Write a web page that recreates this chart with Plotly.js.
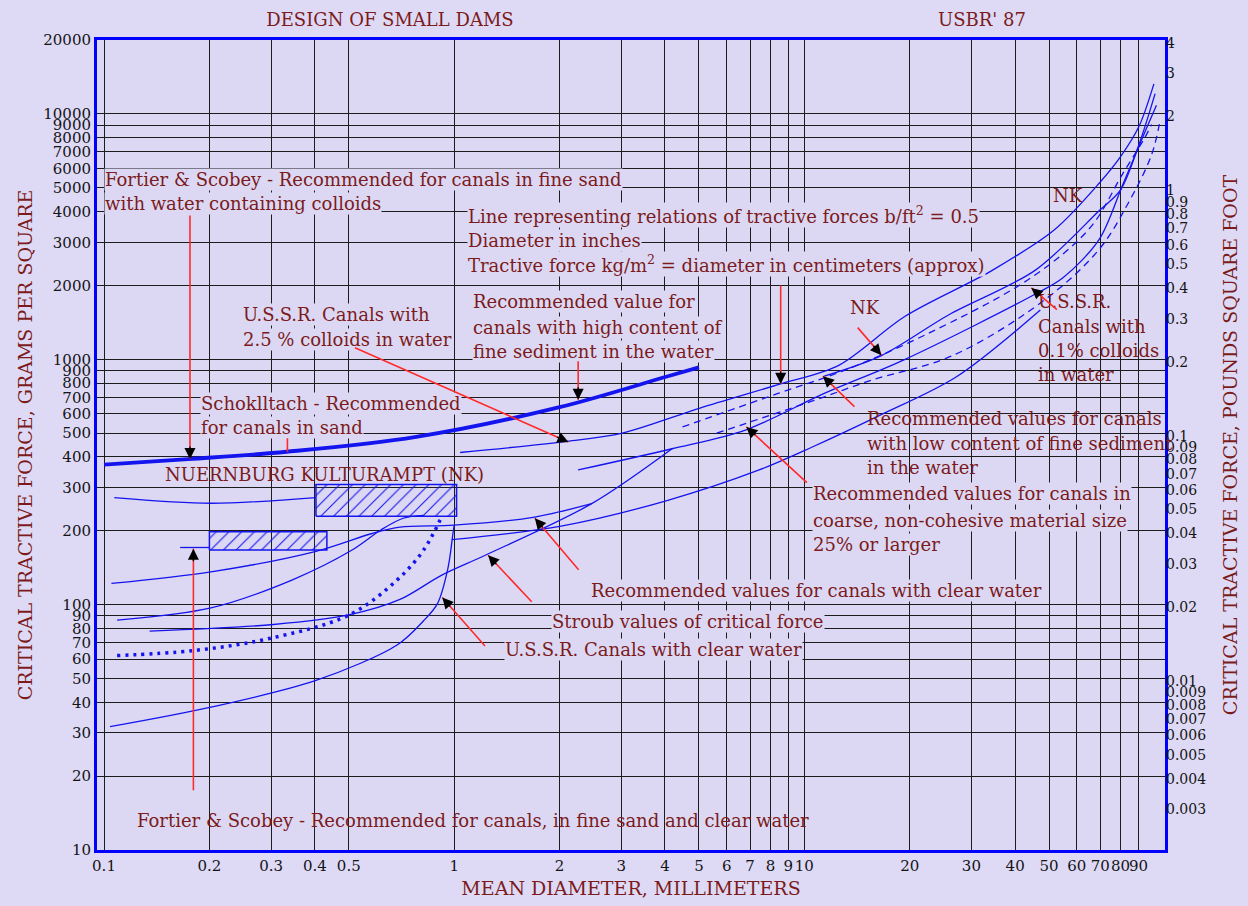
<!DOCTYPE html>
<html><head><meta charset="utf-8">
<script src="https://cdn.plot.ly/plotly-3.0.1.min.js"></script>
<style>html,body{margin:0;padding:0;background:#dedaf6;} #chart{width:1248px;height:906px;}</style>
</head><body><div id="chart"></div>
<script>
// ---- data: mean diameter (mm) vs critical tractive force (g/m2) ----
const schoklitschX = [0.1, 0.174, 0.332, 0.779, 2.0, 4.03, 5.0];
const schoklitschY = [372, 392, 420, 483, 638, 849, 927];
const ussr25X = [1.04, 2.10, 3.02, 5.04, 8.56, 12.5, 19.4, 34.5, 51.8, 69.6, 80, 90.4, 99.6];
const ussr25Y = [417, 463, 500, 633, 794, 943, 1498, 2310, 3372, 5230, 6700, 8930, 13260];
const coarseX = [2.26, 4.19, 6.79, 11.4, 19.4, 45.7, 54.9, 69.6, 81.1, 93.5, 101.3];
const coarseY = [354, 432, 515, 726, 1000, 1845, 2155, 3090, 5140, 8321, 10850];
const nkLowX = [11.4, 16.6, 25.8, 45.7, 69.6, 80, 90.4, 100.4];
const nkLowY = [854, 1035, 1516, 2310, 4040, 4904, 7550, 12110];
const lowSedAX = [4.49, 8.41, 12.8, 22.2, 44.5, 65.6, 81.1, 93.5, 98.1];
const lowSedAY = [530, 726, 893, 1260, 2155, 3450, 5704, 7934, 9067];
const lowSedBX = [5.62, 10.5, 15.6, 26.5, 48.4, 69.6, 85.0, 98.1, 103.9];
const lowSedBY = [500, 675, 823, 1035, 1741, 2815, 4450, 6820, 9520];
const ussr01X = [0.984, 2.02, 4.03, 7.43, 10.5, 16.3, 27.2, 47.2];
const ussr01Y = [184, 209, 265, 354, 438, 588, 849, 1587];
const stroubX = [0.135, 0.305, 0.503, 0.7, 0.922, 1.227, 2.47, 4.19];
const stroubY = [78, 83, 91, 105, 132, 159, 258, 432];
const clearRecX = [0.105, 0.202, 0.403, 0.583, 0.7, 1.0, 1.682, 2.47];
const clearRecY = [122, 136, 165, 195, 207, 211, 227, 258];
const nkMidX = [0.109, 0.202, 0.344, 0.511, 0.619, 0.715, 0.818];
const nkMidY = [86.5, 97, 126, 167, 202, 225, 231];
const fortierClearX = [0.109, 0.18, 0.293, 0.503, 0.687, 0.818, 0.922];
const fortierClearY = [62, 65, 72.5, 91, 126, 167, 229];
const ussrClearX = [0.104, 0.202, 0.403, 0.687, 0.818, 0.896, 0.96, 0.992, 1.0];
const ussrClearY = [31.8, 38.2, 49.1, 68.5, 86, 101, 141, 195, 211];
const nkUpperX = [0.107, 0.202, 0.403];
const nkUpperY = [273, 259, 273];
const nkBoxRangeX = [0.403, 1.016];
const nkBoxRangeY = [229, 309];
const fsBoxRangeX = [0.2, 0.433];
const fsBoxRangeY = [167, 198];
const fsTickX = [0.165, 0.2];
const fsTickY = [171, 171];
const GM2_PER_LBFT2 = 4882;

// ---- tick labels ----
const xTickVals = [0.1,0.2,0.3,0.4,0.5,1,2,3,4,5,6,7,8,9,10,20,30,40,50,60,70,80,90];
const xTickText = ['0.1','0.2','0.3','0.4','0.5','1','2','3','4','5','6','7','8','9','10','20','30','40','50','60','70','80','90'];
const xUnlabelledGrid = [0.6,0.7,0.8,0.9];
const yTickVals = [10,20,30,40,50,60,70,80,90,100,200,300,400,500,600,700,800,900,1000,2000,3000,4000,5000,6000,7000,8000,9000,10000,20000];
const yTickText = yTickVals.map(String);
const y2TickVals = [0.003,0.004,0.005,0.006,0.007,0.008,0.009,0.01,0.02,0.03,0.04,0.05,0.06,0.07,0.08,0.09,0.1,0.2,0.3,0.4,0.5,0.6,0.7,0.8,0.9,1,2,3,4];
const y2TickText = y2TickVals.map(String);

const BLUE = '#1414ee';
const RED_TXT = '#7b1b1b';
const BG = '#dcd8f4';
const FONT = 'DejaVu Serif, serif';
const gridC = '#1c1c1c';

function line(x, y, opts) {
  return Object.assign({type:'scatter', mode:'lines', x:x, y:y, hoverinfo:'skip', showlegend:false,
    line:{color:BLUE, width:1.3, shape:'spline', smoothing:0.9}}, opts || {});
}
function box(rx, ry) {
  return {type:'scatter', mode:'lines', x:[rx[0],rx[1],rx[1],rx[0],rx[0]], y:[ry[0],ry[0],ry[1],ry[1],ry[0]],
    fill:'toself', fillcolor:'rgba(0,0,0,0)', hoverinfo:'skip', showlegend:false,
    line:{color:BLUE, width:1.5},
    fillpattern:{shape:'/', fgcolor:BLUE, bgcolor:'rgba(0,0,0,0)', size:9, solidity:0.12}};
}

const traces = [
  line(schoklitschX, schoklitschY, {line:{color:BLUE, width:3.8, shape:'spline'}}),
  line(ussr25X, ussr25Y),
  line(coarseX, coarseY),
  line(nkLowX, nkLowY),
  line(lowSedAX, lowSedAY, {line:{color:BLUE, width:1.3, dash:'7px,5px', shape:'spline'}}),
  line(lowSedBX, lowSedBY, {line:{color:BLUE, width:1.3, dash:'7px,5px', shape:'spline'}}),
  line(ussr01X, ussr01Y),
  line(stroubX, stroubY),
  line(clearRecX, clearRecY),
  line(nkMidX, nkMidY),
  line(fortierClearX, fortierClearY, {line:{color:BLUE, width:3.5, dash:'3px,5px', shape:'spline'}}),
  line(ussrClearX, ussrClearY),
  line(nkUpperX, nkUpperY),
  line(fsTickX, fsTickY, {line:{color:BLUE, width:1.3}}),
  box(nkBoxRangeX, nkBoxRangeY),
  box(fsBoxRangeX, fsBoxRangeY),
  // invisible copy on the lb/ft2 axis so the right axis is drawn
  {type:'scatter', mode:'lines', x:schoklitschX, y:schoklitschY.map(v => v / GM2_PER_LBFT2), yaxis:'y2',
   opacity:0, hoverinfo:'skip', showlegend:false, line:{width:0.1}}
];

// unlabelled vertical grid lines (0.6 - 0.9 mm)
const shapes = xUnlabelledGrid.map(v => ({type:'line', xref:'x', yref:'paper', x0:Math.log10(v), x1:Math.log10(v),
  y0:0, y1:1, layer:'below', line:{color:gridC, width:1}}));

// ---- annotations ----
const L = 97, T = 40, W = 1068, H = 810;
const px = v => (v - L) / W;
const py = v => (T + H - v) / H;
const ann = [];
function txt(x, y, text, bg, anchor, size) {
  ann.push({xref:'paper', yref:'paper', x:px(x), y:py(y), text:text, showarrow:false,
    xanchor:anchor || 'left', yanchor:'middle', font:{family:FONT, size:size || 18, color:RED_TXT},
    bgcolor: bg ? BG : 'rgba(0,0,0,0)', borderpad:0});
}
function arrow(tx, ty, ax, ay, head) {
  ann.push({xref:'x', yref:'y', x:Math.log10(tx), y:Math.log10(ty), ax:ax, ay:ay, text:'',
    showarrow:true, arrowhead:0, arrowcolor:'#ff2a2a', arrowwidth:1.6, standoff:0});
  if (head !== false) {
    const len = Math.sqrt(ax*ax + ay*ay), k = 14 / len;
    ann.push({xref:'x', yref:'y', x:Math.log10(tx), y:Math.log10(ty), ax:ax*k, ay:ay*k, text:'',
      showarrow:true, arrowhead:2, arrowsize:1.7, arrowwidth:1.3, arrowcolor:'#000', standoff:0});
  }
}

txt(982, 20, "USBR' 87", false, 'center');
txt(104, 179, 'Fortier &amp; Scobey - Recommended for canals in fine sand', true);
txt(104, 203, 'with water containing colloids', true);
txt(467, 215, 'Line representing relations of tractive forces b/ft<sup>2</sup> = 0.5', true);
txt(467, 240, 'Diameter in inches', true);
txt(467, 264, 'Tractive force kg/m<sup>2</sup> = diameter in centimeters (approx)', true);
txt(242, 315, 'U.S.S.R. Canals with', true);
txt(242, 339, '2.5 % colloids in water', true);
txt(472, 302, 'Recommended value for', true);
txt(472, 327, 'canals with high content of', true);
txt(472, 351, 'fine sediment in the water', true);
txt(865, 307, 'NK', false, 'center');
txt(1068, 196, 'NK', false, 'center');
txt(1037, 302, 'U.S.S.R.');
txt(1037, 326, 'Canals with');
txt(1037, 350, '0.1% colloids');
txt(1037, 375, 'in water');
txt(200, 403, 'Schoklltach - Recommended', true);
txt(200, 427, 'for canals in sand', true);
txt(164, 474, 'NUERNBURG KULTURAMPT (NK)');
txt(866, 418, 'Recommended values for canals');
txt(866, 443, 'with low content of fine sediment');
txt(866, 467, 'in the water');
txt(812, 494, 'Recommended values for canals in', true);
txt(812, 520, 'coarse, non-cohesive material size', true);
txt(812, 544, '25% or larger', true);
txt(590, 590, 'Recommended values for canals with clear water', true);
txt(551, 621, 'Stroub values of critical force', true);
txt(504, 649, 'U.S.S.R. Canals with clear water', true);
txt(136, 820, 'Fortier &amp; Scobey - Recommended for canals, in fine sand and clear water');

arrow(0.176, 392, 0, -245);
arrow(8.56, 794, 0, -100);
arrow(2.12, 460, -215, -95);
arrow(2.26, 684, 0, -40);
arrow(16.6, 1040, -25, -29);
arrow(44.5, 1954, 27, 23);
arrow(0.334, 420, 0, -15, false);
arrow(11.3, 854, 33, 32);
arrow(6.83, 530, 62, 57);
arrow(1.70, 225, 45, 53);
arrow(1.25, 159, 45, 48);
arrow(0.925, 107, 44, 50);
arrow(0.18, 169, 0, 243);

const tickFont = {family:FONT, size:15, color:'#141414'};
const titleFont = {family:FONT, size:19, color:RED_TXT};
const layout = {
  width:1248, height:906,
  margin:{l:L, r:83, t:T, b:56},
  paper_bgcolor:'#dedaf6', plot_bgcolor:BG,
  showlegend:false,
  title:{text:'DESIGN OF SMALL DAMS', font:{family:FONT, size:18, color:RED_TXT},
    xref:'paper', x:px(390), xanchor:'center', yref:'container', y:1 - 20/906, yanchor:'middle'},
  annotations:ann,
  shapes:shapes,
  xaxis:{type:'log', range:[-1.02, 2.03], tickvals:xTickVals, ticktext:xTickText, ticks:'', tickangle:0,
    showgrid:true, gridcolor:gridC, gridwidth:1, zeroline:false,
    showline:true, linecolor:'#0000ff', linewidth:3, mirror:true, tickfont:tickFont,
    title:{text:'MEAN DIAMETER, MILLIMETERS', font:titleFont, standoff:8}},
  yaxis:{type:'log', range:[1, 4.3015], tickvals:yTickVals, ticktext:yTickText, ticks:'',
    showgrid:true, gridcolor:gridC, gridwidth:1, zeroline:false,
    showline:true, linecolor:'#0000ff', linewidth:3, mirror:true, tickfont:tickFont,
    title:{text:'CRITICAL TRACTIVE FORCE, GRAMS PER SQUARE', font:titleFont, standoff:6}},
  yaxis2:{type:'log', overlaying:'y', side:'right',
    range:[1 - Math.log10(GM2_PER_LBFT2), 4.3015 - Math.log10(GM2_PER_LBFT2)],
    tickvals:y2TickVals, ticktext:y2TickText, ticks:'', showgrid:false, zeroline:false, showline:false,
    tickfont:{family:FONT, size:14, color:'#141414'},
    title:{text:'CRITICAL TRACTIVE FORCE, POUNDS SQUARE FOOT', font:titleFont, standoff:18}}
};
Plotly.newPlot('chart', traces, layout, {staticPlot:true, displayModeBar:false});
</script></body></html>
